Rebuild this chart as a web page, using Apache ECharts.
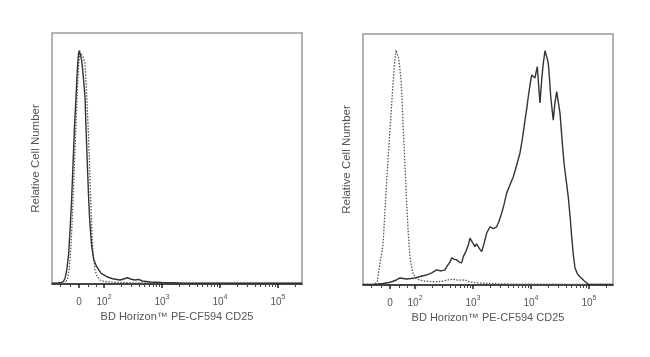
<!DOCTYPE html>
<html>
<head>
<meta charset="utf-8">
<script src="https://cdn.jsdelivr.net/npm/echarts@6/dist/echarts.min.js"></script>
<style>
  html, body { margin: 0; padding: 0; background: #fff; }
  #chart { width: 650px; height: 357px; }
</style>
</head>
<body>
<div id="chart"></div>
<script>
// x values are in display units of the biexponential axis (decades: 2 = 10², 3 = 10³ ...)
const majorTickPos = [1.569, 2, 3, 4, 5];
const tickLabels = ['0', '10|2', '10|3', '10|4', '10|5'];
const minorTickPos = [1.25, 1.41, 1.72, 1.86,
  2.301, 2.477, 2.602, 2.699, 2.778, 2.845, 2.903, 2.954,
  3.301, 3.477, 3.602, 3.699, 3.778, 3.845, 3.903, 3.954,
  4.301, 4.477, 4.602, 4.699, 4.778, 4.845, 4.903, 4.954,
  5.301];
const xAxisName = 'BD Horizon™ PE-CF594 CD25';
const yAxisName = 'Relative Cell Number';
const xMin = 1.103, xMax = 5.414;

// Left panel: stained (solid) and isotype control (dotted)
const leftStained = [[1.103,0.3],[1.20,0.4],[1.26,0.5],[1.30,1.0],[1.33,2.4],[1.36,6],[1.39,12],[1.414,21.5],[1.44,33],[1.466,48],[1.49,62],[1.517,74.5],[1.535,83],[1.547,88],[1.562,92],[1.575,93],[1.59,91.5],[1.616,89],[1.645,82],[1.672,74.6],[1.69,62],[1.712,48],[1.73,37],[1.747,28],[1.77,20],[1.788,14.9],[1.82,10],[1.874,6.9],[1.95,4.2],[2.047,2.9],[2.15,2.1],[2.276,1.6],[2.34,2.0],[2.40,2.5],[2.46,2.0],[2.53,1.6],[2.60,1.8],[2.66,1.2],[2.8,0.8],[3.0,0.6],[3.3,0.4],[3.8,0.3],[4.5,0.3],[5.414,0.3]];
const leftIsotype = [[1.103,0.3],[1.33,0.3],[1.37,2],[1.40,6],[1.43,15],[1.46,30],[1.49,48],[1.52,66],[1.545,80],[1.565,88],[1.585,92],[1.60,92],[1.63,91],[1.672,88],[1.70,76],[1.729,61],[1.745,51],[1.759,41],[1.775,31],[1.788,21.5],[1.81,13],[1.845,5.6],[1.88,3],[1.931,1.6],[2.0,1.0],[2.1,0.8],[2.25,0.6],[2.45,0.5],[2.7,0.4],[3.0,0.4],[4.0,0.3],[5.414,0.3]];

// Right panel
const rightStained = [[1.103,0.2],[1.31,0.3],[1.45,0.6],[1.55,1.0],[1.60,1.3],[1.68,2.0],[1.741,2.8],[1.85,2.4],[1.93,2.6],[2.0,2.8],[2.03,3.3],[2.12,3.6],[2.202,4.0],[2.288,4.8],[2.374,6.0],[2.45,5.6],[2.517,6.0],[2.547,7.3],[2.60,9.0],[2.633,10.8],[2.68,10.2],[2.719,10.0],[2.77,9.0],[2.805,8.8],[2.833,11.3],[2.88,13.5],[2.92,16],[2.948,18.7],[2.99,17],[3.034,15.3],[3.06,16.4],[3.091,16],[3.12,14.2],[3.150,13.3],[3.19,16.5],[3.236,20.7],[3.293,23.2],[3.322,23.9],[3.35,22.5],[3.379,21.9],[3.408,23.2],[3.45,25.5],[3.495,28.7],[3.54,32.5],[3.581,36.7],[3.64,40],[3.695,43.1],[3.75,47.5],[3.810,52.6],[3.85,58],[3.897,65.7],[3.925,70],[3.953,75],[3.985,80],[4.012,83.7],[4.04,84],[4.069,82.5],[4.09,85],[4.109,87],[4.13,80],[4.155,72.5],[4.184,81.7],[4.21,88],[4.241,93.3],[4.27,91],[4.298,88.4],[4.32,82],[4.340,75],[4.384,65.7],[4.41,72],[4.443,77],[4.47,73],[4.500,68.5],[4.535,58],[4.569,48.6],[4.605,42],[4.643,35],[4.675,27],[4.702,19],[4.73,12],[4.759,6.8],[4.80,4.5],[4.845,3.3],[4.91,1.8],[4.988,0.3],[5.414,0.2]];
const rightIsotype = [[1.103,0.2],[1.30,0.3],[1.35,1.5],[1.397,8.8],[1.448,16],[1.483,30],[1.52,45],[1.569,62],[1.60,73],[1.626,82],[1.65,89],[1.672,93.6],[1.69,92],[1.712,91],[1.735,87],[1.759,81.7],[1.78,72],[1.798,62],[1.83,46],[1.857,32],[1.885,20],[1.914,11],[1.945,6.5],[1.971,4.2],[2.052,2.2],[2.15,1.6],[2.3,1.3],[2.45,1.4],[2.57,2.0],[2.66,2.3],[2.75,1.9],[2.86,2.0],[2.95,1.2],[3.1,0.8],[3.4,0.5],[3.8,0.3],[4.5,0.3],[5.414,0.2]];

const FONT = 'Liberation Sans, Arial, sans-serif';
const TEXT = '#555';

function labelFor(v) {
  for (let i = 0; i < majorTickPos.length; i++) {
    if (Math.abs(majorTickPos[i] - v) < 1e-6) {
      const parts = tickLabels[i].split('|');
      return parts.length > 1 ? '{b|' + parts[0] + '}{s|' + parts[1] + '}' : '{b|' + parts[0] + '}';
    }
  }
  return '';
}

function mainX(grid) {
  return {
    type: 'value', gridIndex: grid, min: xMin, max: xMax, position: 'bottom',
    name: xAxisName, nameLocation: 'middle', nameGap: 26,
    nameTextStyle: { fontFamily: FONT, fontSize: 11, color: TEXT },
    axisLine: { show: true, lineStyle: { color: '#222', width: 1.5 } },
    axisTick: { show: true, inside: false, length: 4, customValues: majorTickPos,
                lineStyle: { color: '#222', width: 1.5 } },
    axisLabel: { show: true, customValues: majorTickPos, formatter: labelFor, margin: 10,
                 fontFamily: FONT, fontSize: 10, color: TEXT,
                 rich: {
                   b: { fontFamily: FONT, fontSize: 10, color: TEXT, lineHeight: 13, verticalAlign: 'bottom' },
                   s: { fontFamily: FONT, fontSize: 7, color: TEXT, lineHeight: 13, verticalAlign: 'top' }
                 } },
    splitLine: { show: false }
  };
}
function minorX(grid) {
  return {
    type: 'value', gridIndex: grid, min: xMin, max: xMax, position: 'bottom',
    axisLine: { show: false },
    axisTick: { show: true, inside: false, length: 3, customValues: minorTickPos,
                lineStyle: { color: '#444', width: 1 } },
    axisLabel: { show: false },
    splitLine: { show: false }
  };
}
function yAx(grid) {
  return {
    type: 'value', gridIndex: grid, min: 0, max: 100,
    name: yAxisName, nameLocation: 'middle', nameGap: 10,
    nameTextStyle: { fontFamily: FONT, fontSize: 11.5, color: TEXT },
    axisLine: { show: false }, axisTick: { show: false },
    axisLabel: { show: false }, splitLine: { show: false }
  };
}
function series(data, xi, yi, dotted) {
  return {
    type: 'line', xAxisIndex: xi, yAxisIndex: yi, data: data,
    showSymbol: false, smooth: false, silent: true,
    lineStyle: dotted ? { color: '#555', width: 1.3, type: [1.5, 1.5] }
                      : { color: '#333', width: 1.4 },
    z: dotted ? 2 : 3
  };
}

const chart = echarts.init(document.getElementById('chart'), null, { renderer: 'canvas' });
chart.setOption({
  animation: false,
  backgroundColor: '#fff',
  grid: [
    { left: 52, top: 33, width: 250, height: 251, show: true, borderColor: '#999', borderWidth: 1.5, backgroundColor: 'transparent' },
    { left: 363, top: 34, width: 250, height: 251, show: true, borderColor: '#999', borderWidth: 1.5, backgroundColor: 'transparent' }
  ],
  xAxis: [mainX(0), minorX(0), mainX(1), minorX(1)],
  yAxis: [yAx(0), yAx(1)],
  series: [
    series(leftIsotype, 0, 0, true),
    series(leftStained, 0, 0, false),
    series(rightIsotype, 2, 1, true),
    series(rightStained, 2, 1, false)
  ]
});
</script>
</body>
</html>
